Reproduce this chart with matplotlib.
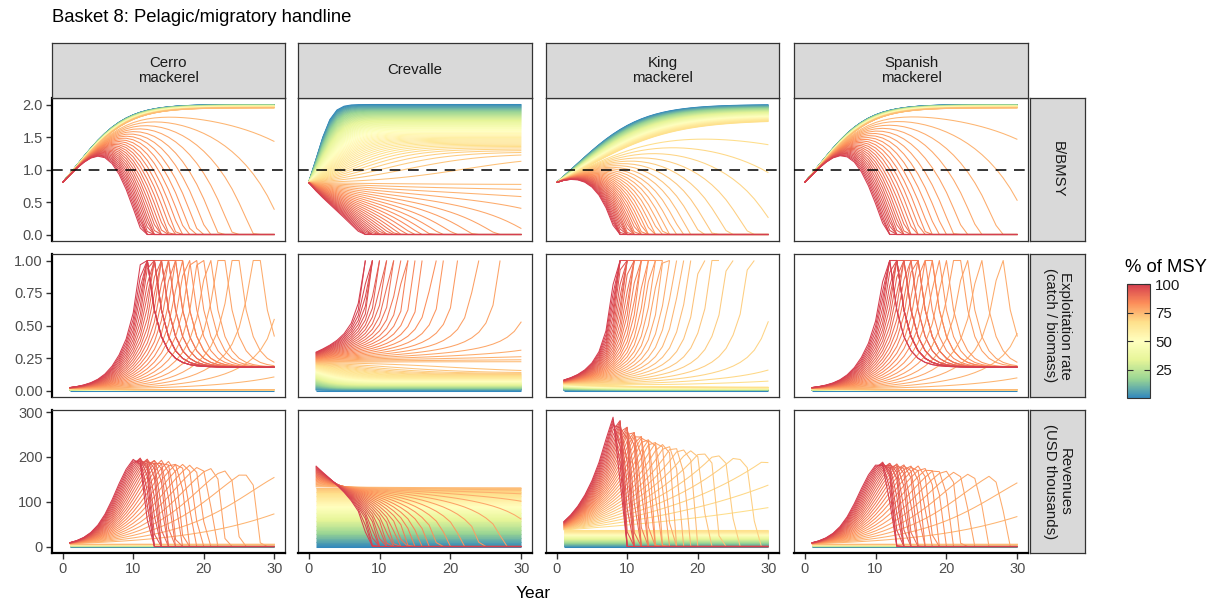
import numpy as np
import matplotlib
matplotlib.use("Agg")
import matplotlib.pyplot as plt
from matplotlib.colors import LinearSegmentedColormap, Normalize
from matplotlib.collections import LineCollection
from matplotlib.cm import ScalarMappable

plt.rcParams["font.family"] = ["Liberation Sans", "DejaVu Sans"]

# ---------------- data / labels ----------------
title = "Basket 8: Pelagic/migratory handline"
species = ["Cerro\nmackerel", "Crevalle", "King\nmackerel", "Spanish\nmackerel"]
row_labels = ["B/BMSY", "Exploitation rate\n(catch / biomass)", "Revenues\n(USD thousands)"]
years_b = np.arange(0, 31)       # biomass years
years_c = np.arange(1, 31)       # catch years
pct_msy = np.arange(0, 101)      # scenarios (% of MSY)

# per-species projection parameters
r_growth = [0.27, 0.72, 0.20, 0.27]
b_initial = [0.8, 0.8, 0.8, 0.8]
catch_100 = [0.018, 0.47, 0.064, 0.018]
catch_cap = [0.46, np.inf, np.inf, 0.45]
ramp_max = [0.44, 0.0, 0.245, 0.43]
ramp_start = [0.74, 1.0, 0.66, 0.74]
ramp_curve = [0.5, 1.0, 0.6, 0.5]
catch_b_ref = [0.6, 0.8, 0.5, 0.6]
catch_b_pow = [0.3, 0.5, 0.3, 0.3]
price = [470, 383, 860, 455]
u_scale = [1.0, 0.5, 1.0, 1.0]
u_after = [0.18, np.nan, np.nan, 0.18]

y_ticks = [[0, 0.5, 1.0, 1.5, 2.0], [0, 0.25, 0.5, 0.75, 1.0], [0, 100, 200, 300]]
y_ticklabels = [["0.0", "0.5", "1.0", "1.5", "2.0"],
                ["0.00", "0.25", "0.50", "0.75", "1.00"],
                ["0", "100", "200", "300"]]
x_ticks = [0, 10, 20, 30]
cbar_ticks = [25, 50, 75, 100]
spectral = ["#3288BD", "#99D594", "#E6F598", "#FFFFBF", "#FEE08B", "#FC8D59", "#D53E4F"]


def simulate(i, pct):
    p = pct / 100.0
    B = np.zeros(len(years_b))
    B[0] = b_initial[i]
    C = np.zeros(len(years_c))
    U = np.full(len(years_c), np.nan)
    q = max(0.0, (p - ramp_start[i]) / (1 - ramp_start[i])) ** ramp_curve[i]
    g = ramp_max[i] * q
    T0 = catch_100[i] * p
    cap = catch_cap[i]
    collapse = None
    for j, t in enumerate(years_c):
        b = B[j]
        if b <= 0:
            B[j + 1] = 0
            continue
        if T0 <= 0:
            T = 0.0
        else:
            Tg = T0 * np.exp(g * (t - 1))
            T = (Tg ** -2 + cap ** -2) ** -0.5
        s = r_growth[i] * b * (1 - b / 2)
        phi = min(1.0, b / catch_b_ref[i]) ** catch_b_pow[i]
        c = min(T * phi, b + s)
        C[j] = c
        U[j] = min(1.0, c / b * u_scale[i])
        nb = b + s - c
        if nb <= 1e-9:
            nb = 0.0
            collapse = j
            U[j] = 1.0
        B[j + 1] = nb
    if collapse is not None and not np.isnan(u_after[i]):
        for j in range(collapse + 1, len(years_c)):
            U[j] = u_after[i] + (1 - u_after[i]) * np.exp(-(j - collapse) / 1.6)
    return B, U, C * price[i]


# ---------------- figure ----------------
W, H = 1212, 604
fig = plt.figure(figsize=(W / 100, H / 100), dpi=100)


def ax_px(x0, y0, x1, y1):
    return fig.add_axes([x0 / W, 1 - y1 / H, (x1 - x0) / W, (y1 - y0) / H])


col_x = [(52, 285), (298, 532), (546, 779), (794, 1028)]
row_y = [(98, 241), (254, 397), (410, 553)]
strip_top = (43, 98)
strip_right = (1030, 1085)
ylims = [(-0.1, 2.1), (-0.05, 1.05), (-14.5, 304.5)]

cmap = LinearSegmentedColormap.from_list("spec", spectral)
norm = Normalize(0, 100)

results = [[simulate(i, pc) for pc in pct_msy] for i in range(4)]

for ci in range(4):
    for ri in range(3):
        x0, x1 = col_x[ci]
        y0, y1 = row_y[ri]
        ax = ax_px(x0, y0, x1, y1)
        segs, cols = [], []
        for k, pc in enumerate(pct_msy):
            B, U, R = results[ci][k]
            if ri == 0:
                xs, ys = years_b, B
            elif ri == 1:
                xs, ys = years_c, U
            else:
                xs, ys = years_c, R
            m = ~np.isnan(ys)
            if m.sum() < 2:
                continue
            segs.append(np.column_stack([xs[m], ys[m]]))
            cols.append(cmap(norm(pc)))
        lc = LineCollection(segs, colors=cols, linewidths=0.75)
        ax.add_collection(lc)
        if ri == 0:
            ax.axhline(1.0, color="black", lw=1.1, ls=(0, (7, 5)), zorder=5)
        ax.set_xlim(-1.5, 31.5)
        ax.set_ylim(*ylims[ri])
        for sp in ax.spines.values():
            sp.set_color("#333333")
            sp.set_linewidth(0.9)
        if ci == 0:
            ax.spines["left"].set_color("black")
            ax.spines["left"].set_linewidth(1.6)
            ax.set_yticks(y_ticks[ri])
            ax.set_yticklabels(y_ticklabels[ri])
        else:
            ax.set_yticks([])
        if ri == 2:
            ax.spines["bottom"].set_color("black")
            ax.spines["bottom"].set_linewidth(1.6)
            ax.set_xticks(x_ticks)
        else:
            ax.set_xticks([])
        ax.tick_params(length=4, width=1, color="#333333", labelcolor="#4D4D4D",
                       labelsize=10.5, pad=2.5)

# top strips
for ci in range(4):
    x0, x1 = col_x[ci]
    sax = ax_px(x0, strip_top[0], x1, strip_top[1])
    sax.set_facecolor("#D9D9D9")
    sax.set_xticks([]); sax.set_yticks([])
    for sp in sax.spines.values():
        sp.set_color("#333333"); sp.set_linewidth(0.9)
    sax.text(0.5, 0.5, species[ci], ha="center", va="center", fontsize=10.8,
             color="#1A1A1A", transform=sax.transAxes, linespacing=1.05)

# right strips
for ri in range(3):
    y0, y1 = row_y[ri]
    sax = ax_px(strip_right[0], y0, strip_right[1], y1)
    sax.set_facecolor("#D9D9D9")
    sax.set_xticks([]); sax.set_yticks([])
    for sp in sax.spines.values():
        sp.set_color("#333333"); sp.set_linewidth(0.9)
    sax.text(0.5, 0.5, row_labels[ri], ha="center", va="center", fontsize=10.8,
             color="#1A1A1A", rotation=-90, transform=sax.transAxes, linespacing=1.05)

fig.text(52 / W, 1 - 18 / H, title, ha="left", va="center", fontsize=13.3, color="black")
fig.text(533 / W, 1 - 594 / H, "Year", ha="center", va="center", fontsize=12.5, color="black")

# colourbar
cax = ax_px(1127, 284, 1150, 398)
sm = ScalarMappable(norm=norm, cmap=cmap)
cb = fig.colorbar(sm, cax=cax, ticks=cbar_ticks)
cb.outline.set_edgecolor("#333333")
cb.outline.set_linewidth(0.8)
cax.tick_params(axis="y", which="both", left=True, right=True, direction="in",
                length=4, width=0.8, color="#333333", labelsize=10.8, labelcolor="#1A1A1A")
fig.text(1125 / W, 1 - 268 / H, "% of MSY", ha="left", va="center", fontsize=13.3)

fig.savefig("out.png", dpi=100)
